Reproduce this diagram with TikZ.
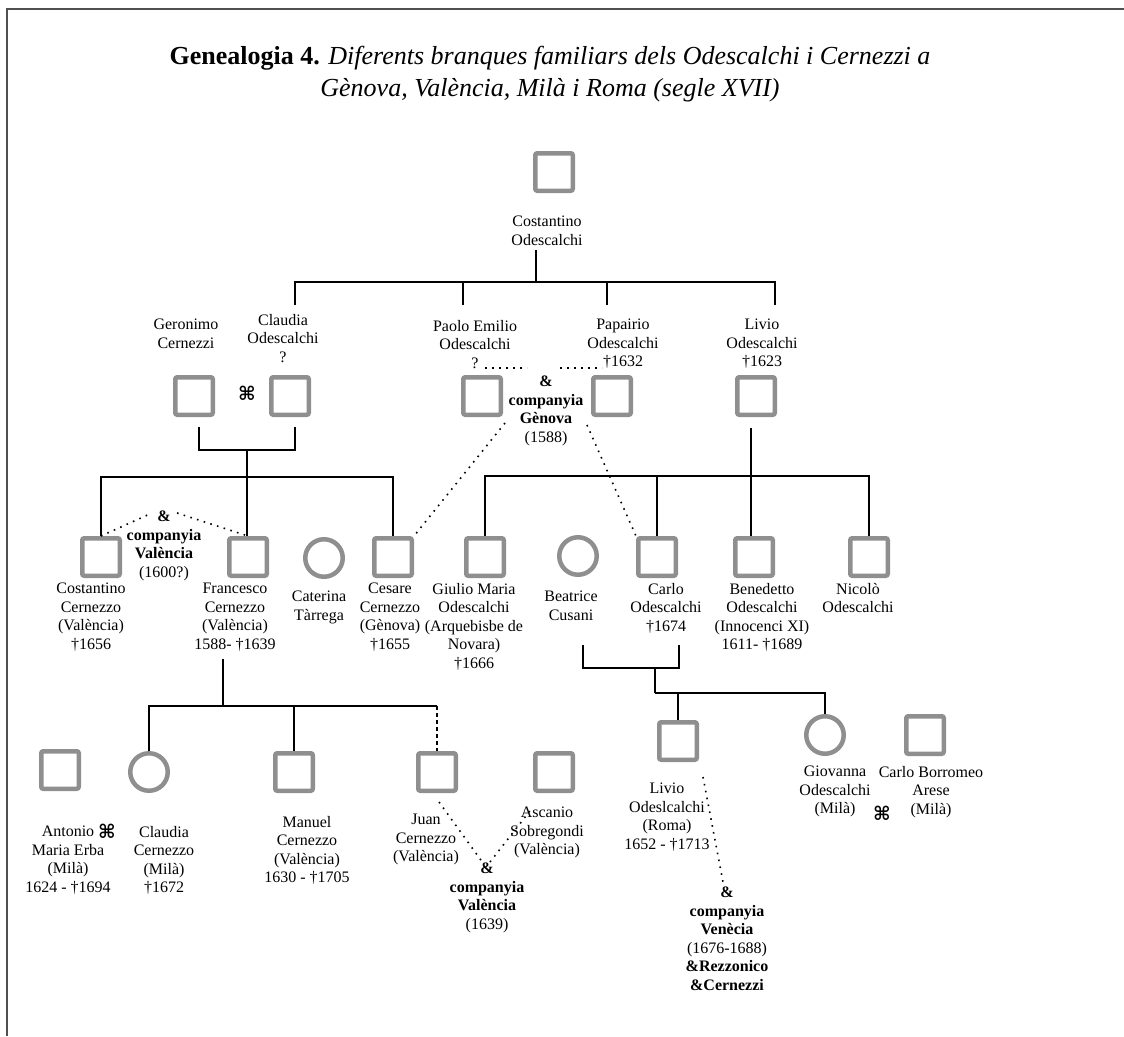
\documentclass[tikz,border=0pt]{standalone}
\usepackage{fontspec}
\setmainfont{Liberation Serif}
\newfontfamily\symf{DejaVu Sans}
\definecolor{boxgray}{RGB}{143,143,143}
\definecolor{framegray}{RGB}{80,80,80}
\begin{document}
\begin{tikzpicture}[x=1pt,y=-1pt,
  male/.style={rectangle, draw=boxgray, line width=4.5pt, rounded corners=2pt, minimum size=37.5pt, inner sep=0pt},
  female/.style={circle, draw=boxgray, line width=4.5pt, minimum size=37.5pt, inner sep=0pt},
  conn/.style={line width=1.4pt, black},
  dotl/.style={line width=1.6pt, black, dash pattern=on 1.6pt off 5.4pt},
  dashl/.style={line width=1.4pt, black, dash pattern=on 4pt off 3pt},
  lbl/.style={font=\fontsize{16}{18.5}\selectfont, align=center, inner sep=0pt, anchor=north},
  marr/.style={font=\symf\bfseries\fontsize{19}{19}\selectfont, inner sep=0pt},
  titlestyle/.style={font=\fontsize{26}{32}\selectfont, align=center, inner sep=0pt, anchor=north}]
\useasboundingbox (0,0) rectangle (1124,1036);
% frame
\coordinate (fr0) at (7,1036);
\coordinate (fr1) at (7,9);
\coordinate (fr2) at (1124,9);
\draw[line width=1.5pt, framegray] (fr0) -- (fr1) -- (fr2);
% title
\node[titlestyle] (title) at (550,46) {\textbf{Genealogia 4.} \textit{Diferents branques familiars dels Odescalchi i Cernezzi a}\\\textit{Gènova, València, Milà i Roma (segle XVII)}};
% generation 1
\node[male] (cost) at (554,172) {};
\node[lbl] (cost-t) at (547,216) {Costantino\\Odescalchi};
% generation 2
\node[male] (ger) at (194,396) {};
\node[lbl] (ger-t) at (186,319) {Geronimo\\Cernezzi};
\node[male] (claO) at (290,396) {};
\node[lbl] (claO-t) at (283,314) {Claudia\\Odescalchi\\?};
\node[marr] (m1) at (247,393) {⌘};
\node[male] (pao) at (482,396) {};
\node[lbl] (pao-t) at (475,320) {Paolo Emilio\\Odescalchi\\?};
\node[male] (pap) at (612,396) {};
\node[lbl] (pap-t) at (623,319) {Papairio\\Odescalchi\\†1632};
\node[male] (liv) at (756,396) {};
\node[lbl] (liv-t) at (762,319) {Livio\\Odescalchi\\†1623};
\node[lbl] (compG) at (546,376) {\textbf{\&}\\\textbf{companyia}\\\textbf{Gènova}\\(1588)};
% generation 3
\node[male] (costC) at (101,557) {};
\node[lbl] (costC-t) at (91,583) {Costantino\\Cernezzo\\(València)\\†1656};
\node[male] (fran) at (248,557) {};
\node[lbl] (fran-t) at (235,583) {Francesco\\Cernezzo\\(València)\\1588- †1639};
\node[female] (cat) at (324,558) {};
\node[lbl] (cat-t) at (319,591) {Caterina\\Tàrrega};
\node[male] (ces) at (393,557) {};
\node[lbl] (ces-t) at (390,583) {Cesare\\Cernezzo\\(Gènova)\\†1655};
\node[lbl] (compV1) at (164,511) {\textbf{\&}\\\textbf{companyia}\\\textbf{València}\\(1600?)};
\node[male] (giu) at (485,557) {};
\node[lbl] (giu-t) at (474,583) {Giulio Maria\\Odescalchi\\(Arquebisbe de\\Novara)\\†1666};
\node[female] (bea) at (578,556) {};
\node[lbl] (bea-t) at (571,591) {Beatrice\\Cusani};
\node[male] (car) at (657,557) {};
\node[lbl] (car-t) at (666,583) {Carlo\\Odescalchi\\†1674};
\node[male] (ben) at (754,557) {};
\node[lbl] (ben-t) at (762,583) {Benedetto\\Odescalchi\\(Innocenci XI)\\1611- †1689};
\node[male] (nic) at (869,557) {};
\node[lbl] (nic-t) at (858,583) {Nicolò\\Odescalchi};
% generation 4
\node[male] (ant) at (60,770) {};
\node[lbl] (ant-t) at (68,826) {Antonio\\Maria Erba\\(Milà)\\1624 - †1694};
\node[marr] (m2) at (107,831) {⌘};
\node[female] (claC) at (149,772) {};
\node[lbl] (claC-t) at (164,826) {Claudia\\Cernezzo\\(Milà)\\†1672};
\node[male] (man) at (294,772) {};
\node[lbl] (man-t) at (307,816) {Manuel\\Cernezzo\\(València)\\1630 - †1705};
\node[male] (juan) at (437,772) {};
\node[lbl] (juan-t) at (426,814) {Juan\\Cernezzo\\(València)};
\node[male] (asc) at (554,772) {};
\node[lbl] (asc-t) at (547,807) {Ascanio\\Sobregondi\\(València)};
\node[lbl] (compV2) at (487,863) {\textbf{\&}\\\textbf{companyia}\\\textbf{València}\\(1639)};
\node[male] (livR) at (678,741) {};
\node[lbl] (livR-t) at (667,783) {Livio\\Odeslcalchi\\(Roma)\\1652 - †1713};
\node[lbl] (compVe) at (727,887) {\textbf{\&}\\\textbf{companyia}\\\textbf{Venècia}\\(1676-1688)\\\textbf{\&Rezzonico}\\\textbf{\&Cernezzi}};
\node[female] (gio) at (825,735) {};
\node[lbl] (gio-t) at (835,766) {Giovanna\\Odescalchi\\(Milà)};
\node[male] (cb) at (925,735) {};
\node[lbl] (cb-t) at (931,766) {Carlo Borromeo\\Arese\\(Milà)};
\node[marr] (m3) at (882,813) {⌘};
% ---- connectors: Costantino's children
\coordinate (j0top) at (536,250);
\coordinate (j0) at (536,282);
\coordinate (d1) at (295,305);
\coordinate (d2) at (463,305);
\coordinate (d3) at (607,305);
\coordinate (d4) at (775,305);
\draw[conn] (j0top) -- (j0);
\draw[conn] (j0) -| (d1);
\draw[conn] (j0) -| (d4);
\draw[conn] (d2 |- j0) -- (d2);
\draw[conn] (d3 |- j0) -- (d3);
% Geronimo x Claudia
\coordinate (mA) at (199,427);
\coordinate (mB) at (295,427);
\coordinate (mC) at (247,450);
\coordinate (j3) at (247,477);
\draw[conn] (mA) |- (mC) -| (mB);
\draw[conn] (mC) -- (mC |- fran.north);
\draw[conn] (j3) -| (costC.north);
\draw[conn] (j3) -| (ces.north);
% Livio's children
\coordinate (lv) at (751,428);
\coordinate (j2) at (751,476);
\draw[conn] (lv) -- (lv |- ben.north);
\draw[conn] (j2) -| (giu.north);
\draw[conn] (j2) -| (nic.north);
\draw[conn] (car.north |- j2) -- (car.north);
% Francesco's children
\coordinate (fA) at (223,659);
\coordinate (j4) at (223,706);
\draw[conn] (fA) -- (j4);
\draw[conn] (j4) -| (claC.north);
\draw[conn] (j4) -| (man.north);
\draw[conn] (j4) -- (j4 -| juan.north);
\draw[dashl] (j4 -| juan.north) -- (juan.north);
% Beatrice x Carlo
\coordinate (bA) at (583,645);
\coordinate (bB) at (679,645);
\coordinate (bC) at (655,668);
\coordinate (j5) at (655,693);
\draw[conn] (bA) |- (bC) -| (bB);
\draw[conn] (bC) -- (j5);
\draw[conn] (j5) -| (gio.north);
\draw[conn] (j5 -| livR.north) -- (livR.north);
% ---- dotted company links
\coordinate (g1) at (485,368);
\coordinate (g2) at (527,368);
\coordinate (g3) at (560,368);
\coordinate (g4) at (602,368);
\coordinate (g5) at (505,423);
\coordinate (g6) at (587,425);
\draw[dotl] (g1) -- (g2);
\draw[dotl] (g3) -- (g4);
\draw[dotl] (g5) -- (ces.north east);
\draw[dotl] (g6) -- (car.north west);
\coordinate (v1) at (152,513);
\coordinate (v2) at (177,513);
\draw[dotl] (costC.north) -- (v1);
\draw[dotl] (v2) -- (fran.north);
\coordinate (w1) at (439,802);
\coordinate (w2) at (483,863);
\coordinate (w3) at (490,862);
\coordinate (w4) at (533,807);
\draw[dotl] (w1) -- (w2);
\draw[dotl] (w3) -- (w4);
\coordinate (r1) at (703,777);
\coordinate (r2) at (723,882);
\draw[dotl] (r1) -- (r2);
\end{tikzpicture}
\end{document}
